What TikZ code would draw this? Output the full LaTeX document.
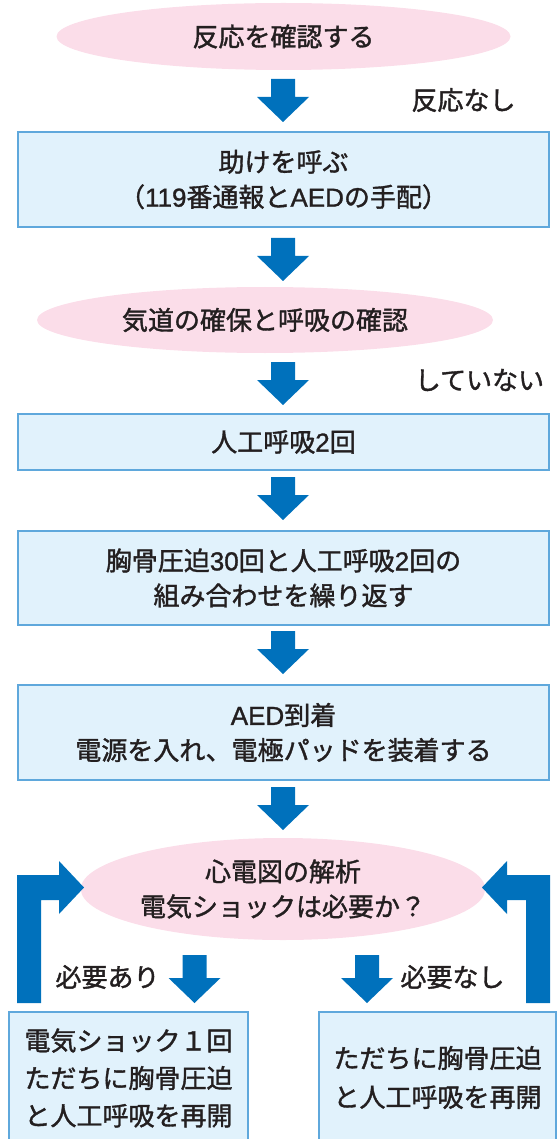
\documentclass[tikz,border=0pt]{standalone}
\usepackage{fontspec}
\setmainfont{Noto Sans CJK JP}[BoldFont={Noto Sans CJK JP}, BoldFeatures={FakeBold=1.4}]
\newfontfamily\latf{Liberation Sans}[BoldFont={Liberation Sans}, BoldFeatures={FakeBold=1.2}]
\newcommand{\lt}[1]{{\latf\bfseries #1}}
\usetikzlibrary{shapes.geometric}
\definecolor{pinkfill}{HTML}{FBDDE9}
\definecolor{boxfill}{HTML}{E1F2FC}
\definecolor{boxline}{HTML}{5FA8DC}
\definecolor{arrowblue}{HTML}{0071BC}
\definecolor{txt}{HTML}{231F20}
\tikzset{
  jtext/.style={text=txt, font=\fontsize{26pt}{35pt}\selectfont\bfseries, align=center, inner sep=0pt},
  oval/.style={ellipse, fill=pinkfill, jtext},
  flowbox/.style={rectangle, fill=boxfill, draw=boxline, line width=1.2pt, jtext},
  dnarrow/.pic={\fill[arrowblue] (-12,0) -- (12,0) -- (12,18) -- (26,18) -- (0,43) -- (-26,18) -- (-12,18) -- cycle;},
  dnarrowlong/.pic={\fill[arrowblue] (-12,0) -- (12,0) -- (12,23) -- (26,23) -- (0,48) -- (-26,23) -- (-12,23) -- cycle;}
}
\begin{document}
\begin{tikzpicture}[x=1pt,y=-1pt]
\useasboundingbox (0,0) rectangle (557,1139);
\clip (0,0) rectangle (557,1139);
% top oval
\node[oval, minimum width=454pt, minimum height=67pt] (e1) at (283.5,36.5) {反応を確認する};
\pic at (283,79) {dnarrow};
\node[jtext] (l1) at (463.5,100) {反応なし};
% box 1
\node[flowbox, minimum width=531pt, minimum height=95pt] (b1) at (283.5,179.5) {助けを呼ぶ\\（\lt{119}番通報と\lt{AED}の手配）};
\pic at (283,238) {dnarrow};
% oval 2
\node[oval, minimum width=456pt, minimum height=66pt] (e2) at (265,320) {気道の確保と呼吸の確認};
\pic at (283,362) {dnarrow};
\node[jtext] (l2) at (479.5,380) {していない};
% box 2
\node[flowbox, minimum width=531pt, minimum height=56pt] (b2) at (283.5,442) {人工呼吸\lt{2}回};
\pic at (283,477) {dnarrow};
% box 3
\node[flowbox, minimum width=531pt, minimum height=94pt] (b3) at (283.5,578) {胸骨圧迫\lt{30}回と人工呼吸\lt{2}回の\\組み合わせを繰り返す};
\pic at (283,631) {dnarrow};
% box 4
\node[flowbox, minimum width=531pt, minimum height=95pt] (b4) at (283.5,732.5) {\lt{AED}到着\\電源を入れ、電極パッドを装着する};
\pic at (283,787) {dnarrow};
% oval 3
\node[oval, minimum width=378pt, minimum height=102pt] (e3) at (283,889) {心電図の解析\\電気ショックは必要か？};
% bent arrows
\fill[arrowblue] (17,1003) -- (17,875) -- (59,875) -- (59,861) -- (84,887.5) -- (59,914) -- (59,900) -- (41,900) -- (41,1003) -- cycle;
\fill[arrowblue] (550,1003) -- (550,875) -- (507,875) -- (507,861) -- (482,887.5) -- (507,914) -- (507,900) -- (526,900) -- (526,1003) -- cycle;
% small arrows and labels
\pic at (194.5,955) {dnarrowlong};
\pic at (367,955) {dnarrowlong};
\node[jtext] (l3) at (107.5,977) {必要あり};
\node[jtext] (l4) at (452.5,977) {必要なし};
% bottom boxes
\draw[fill=boxfill, draw=boxline, line width=1.2pt] (9,1012) rectangle (248,1160);
\draw[fill=boxfill, draw=boxline, line width=1.2pt] (319,1012) rectangle (556,1160);
\node[jtext, font=\fontsize{26pt}{37.5pt}\selectfont\bfseries] (t1) at (128.5,1078) {電気ショック１回\\ただちに胸骨圧迫\\と人工呼吸を再開};
\node[jtext, font=\fontsize{26pt}{39pt}\selectfont\bfseries] (t2) at (437.5,1077.5) {ただちに胸骨圧迫\\と人工呼吸を再開};
\end{tikzpicture}
\end{document}
